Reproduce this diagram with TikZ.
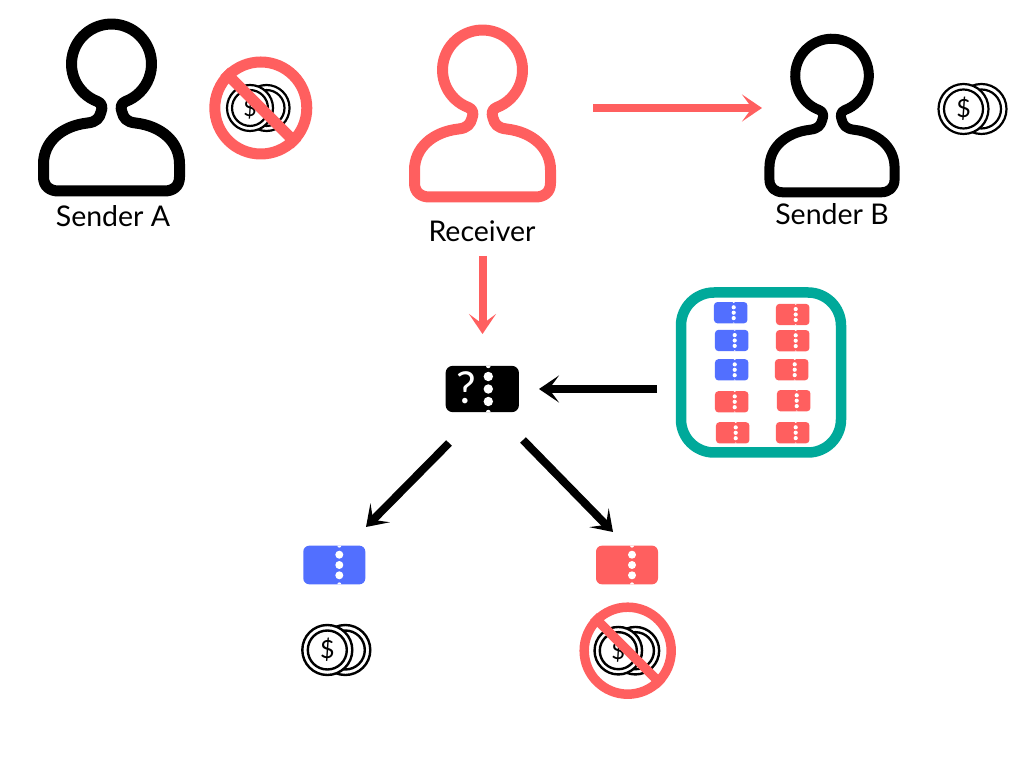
\documentclass[tikz,border=0pt]{standalone}
\usepackage{fontspec}
\setmainfont{Lato}
\usetikzlibrary{arrows.meta}
\definecolor{coral}{HTML}{FF5F5F}
\definecolor{ticketblue}{HTML}{526FFF}
\definecolor{panelteal}{HTML}{00A99A}
\tikzset{
  pics/person/.style={code={
    \draw[line join=round] (-14,-37.5) arc[start angle=249.5, end angle=-69.5, radius=40]
      .. controls (9,-39.5) and (9,-44) .. (10.5,-48)
      .. controls (12,-54) and (15,-58) .. (24,-59)
      .. controls (50,-62) and (68,-78) .. (68,-100) -- (68,-113)
      .. controls (68,-122) and (62,-127) .. (53,-127) -- (-53,-127)
      .. controls (-62,-127) and (-68,-122) .. (-68,-113) -- (-68,-100)
      .. controls (-68,-78) and (-50,-62) .. (-24,-59)
      .. controls (-15,-58) and (-12,-54) .. (-10.5,-48)
      .. controls (-9,-44) and (-9,-39.5) .. cycle;
  }},
  pics/coins/.style={code={
    \draw[fill=white] (18,0) circle (25);
    \draw (18,0) circle (19.5);
    \draw[fill=white] (0,0) circle (25);
    \draw (0,0) circle (19.5);
    \node (-dollar) [transform shape, font=\fontsize{25}{25}\selectfont] at (0,0) {\$};
  }},
  ticket/.style n args={4}{rectangle, inner sep=0pt, fill=#1, path picture={
    \foreach \k in {-1,0,1}
      \fill[white] ([xshift=#2, yshift=\k*#3]path picture bounding box.center) circle (#4);
    \fill[white] ([xshift=#2]path picture bounding box.north) circle ({.5*#4});
    \fill[white] ([xshift=#2]path picture bounding box.south) circle ({.5*#4});
  }},
  bigticket/.style={ticket={#1}{5pt}{10.3pt}{4pt}, minimum width=62pt, minimum height=38.7pt, rounded corners=6pt},
  smallticket/.style={ticket={#1}{3pt}{5.4pt}{2.1pt}, minimum width=33.5pt, minimum height=21.3pt, rounded corners=3.5pt},
  forbid/.style={circle, draw=coral, inner sep=0pt},
  label/.style={font=\fontsize{28.5}{32}\selectfont, text=black},
  arrow/.style={line width=8pt, -{Stealth[length=20pt, width=27pt, inset=10pt]}},
}

\begin{document}
\begin{tikzpicture}[x=1pt, y=1pt]
  \useasboundingbox (0,0) rectangle (1024,768);

  \pic [line width=11pt] at (111.5,704) {person};
  \pic [line width=11pt, color=coral] at (482.5,698) {person};
  \pic [line width=10pt, scale=.92] at (832,692.5) {person};

  \node (senderA) [label] at (113,552) {Sender A};
  \node (receiver) [label] at (482,537) {Receiver};
  \node (senderB) [label] at (832,554) {Sender B};

  \pic (coinsA) [line width=2.2pt, scale=.92] at (250,660) {coins};
  \node (noA) [forbid, line width=11pt, minimum size=92pt] at (260.8,660) {};
  \draw[coral, line width=11pt] (noA.north west) -- (noA.south east);

  \pic (coinsB) [line width=2.2pt] at (963.5,659) {coins};

  % ticket in question
  \node (query) [ticket={black}{6pt}{12.5pt}{4.7pt}, minimum width=73.3pt, minimum height=46.3pt, rounded corners=7pt] at (482.3,379) {};
  \node (qmark) [text=white, font=\fontsize{44}{44}\selectfont] at (466,380) {?};

  % the pool of tickets
  \node (pool) [rectangle, draw=panelteal, line width=10.5pt, minimum size=160pt, rounded corners=33pt] at (761,395.5) {};
  \foreach \x/\y/\c [count=\i] in {
    730.7/455.3/ticketblue, 731.7/427.5/ticketblue, 731.7/398.2/ticketblue,
    731.7/366.2/coral, 732.7/335.2/coral,
    792.7/453.5/coral, 792.7/427.3/coral, 791.7/398.3/coral,
    793.7/367.3/coral, 792.7/335.3/coral}
    \node (tk\i) [smallticket=\c] at (\x,\y) {};

  \node (blue) [bigticket=ticketblue] at (334.3,203) {};
  \node (red) [bigticket=coral] at (627,203) {};

  \pic (coinsL) [line width=2.4pt] at (327.3,118) {coins};
  \pic (coinsR) [line width=2.4pt, scale=.95] at (618.3,117.3) {coins};
  \node (noR) [forbid, line width=9.5pt, minimum size=87pt] at (627.7,117.3) {};
  \draw[coral, line width=9.5pt] (noR.north west) -- (noR.south east);

  \coordinate (a1) at (593,660);
  \coordinate (a2) at (762,660);
  \coordinate (b1) at (482.5,512);
  \coordinate (b2) at (482.5,434);
  \coordinate (c1) at (657,379);
  \coordinate (c2) at (539,379);
  \coordinate (d1) at (449,325);
  \coordinate (d2) at (366,241);
  \coordinate (e1) at (523,328);
  \coordinate (e2) at (613,236);
  \draw[arrow, coral] (a1) -- (a2);
  \draw[arrow, coral] (b1) -- (b2);
  \draw[arrow] (c1) -- (c2);
  \draw[arrow] (d1) -- (d2);
  \draw[arrow] (e1) -- (e2);
\end{tikzpicture}
\end{document}
